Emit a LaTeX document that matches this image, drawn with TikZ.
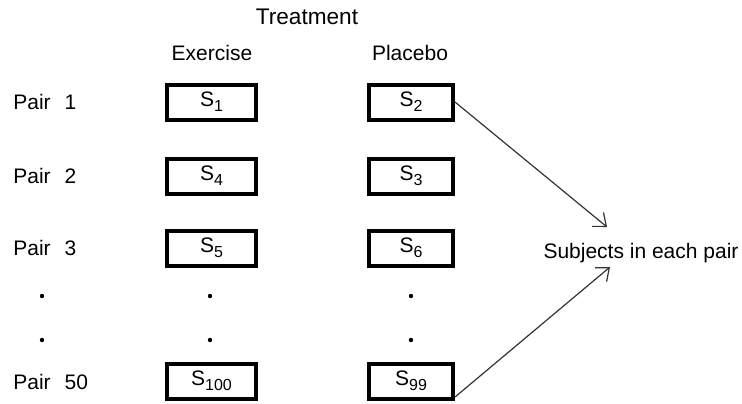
\documentclass[tikz,border=0pt]{standalone}
\usepackage{fontspec}
\setmainfont{Liberation Sans}
\usetikzlibrary{arrows.meta, positioning}

\newcommand{\subj}[1]{S\raisebox{-2.6pt}{\fontsize{8}{9}\selectfont #1}}

\tikzset{
  subjbox/.style={draw, line width=2pt, minimum height=17.5pt, inner sep=0pt, font=\fontsize{10.5}{12}\selectfont},
  exbox/.style={subjbox, minimum width=44.5pt},
  plbox/.style={subjbox, minimum width=42pt},
  lbl/.style={inner sep=0pt, font=\fontsize{10.5}{12}\selectfont},
  vdot/.style={circle, fill=black, inner sep=0pt, minimum size=2.2pt},
  link/.style={line width=0.6pt, draw=black!80, -{Straight Barb[length=5.5pt, width=9pt]}}
}

\begin{document}
\begin{tikzpicture}[x=0.5pt, y=-0.5pt]
		\useasboundingbox (0,0) rectangle (742,403);
		% Headings
		\node[lbl, font=\fontsize{11.3}{13}\selectfont] (treat) at (307,17) {Treatment};
		\node[lbl] (exhead) at (212,53) {Exercise};
		\node[lbl] (plhead) at (410,53) {Placebo};
		% Pair labels
		\node[lbl, anchor=west] (p1) at (13,102) {Pair\hspace{7pt}1};
		\node[lbl, anchor=west] (p2) at (13,176) {Pair\hspace{7pt}2};
		\node[lbl, anchor=west] (p3) at (13,248) {Pair\hspace{7pt}3};
		\node[lbl, anchor=west] (p50) at (13,382) {Pair\hspace{7pt}50};
		% Exercise column
		\node[exbox] (ex1) at (211.5,102) {\subj{1}};
		\node[exbox] (ex2) at (211.5,176) {\subj{4}};
		\node[exbox] (ex3) at (211.5,248) {\subj{5}};
		\node[exbox] (ex50) at (211.5,381) {\subj{100}};
		% Placebo column
		\node[plbox] (pl1) at (411,102) {\subj{2}};
		\node[plbox] (pl2) at (411,176) {\subj{3}};
		\node[plbox] (pl3) at (411,248) {\subj{6}};
		\node[plbox] (pl50) at (411,381) {\subj{99}};
		% Dots
		\node[vdot] (d1) at (42,296) {};
		\node[vdot] (d2) at (42,340) {};
		\node[vdot] (d3) at (210,296) {};
		\node[vdot] (d4) at (210,340) {};
		\node[vdot] (d5) at (411,296) {};
		\node[vdot] (d6) at (411,340) {};
		% Subjects in each pair
		\node[lbl] (subj) at (641,253) {Subjects in each pair};
		\coordinate (tipA) at (607,227);
		\coordinate (tipB) at (610,267);
		\draw[link] (pl1.east) -- (tipA);
		\draw[link] (pl50.-20) -- (tipB);
	\end{tikzpicture}
\end{document}
